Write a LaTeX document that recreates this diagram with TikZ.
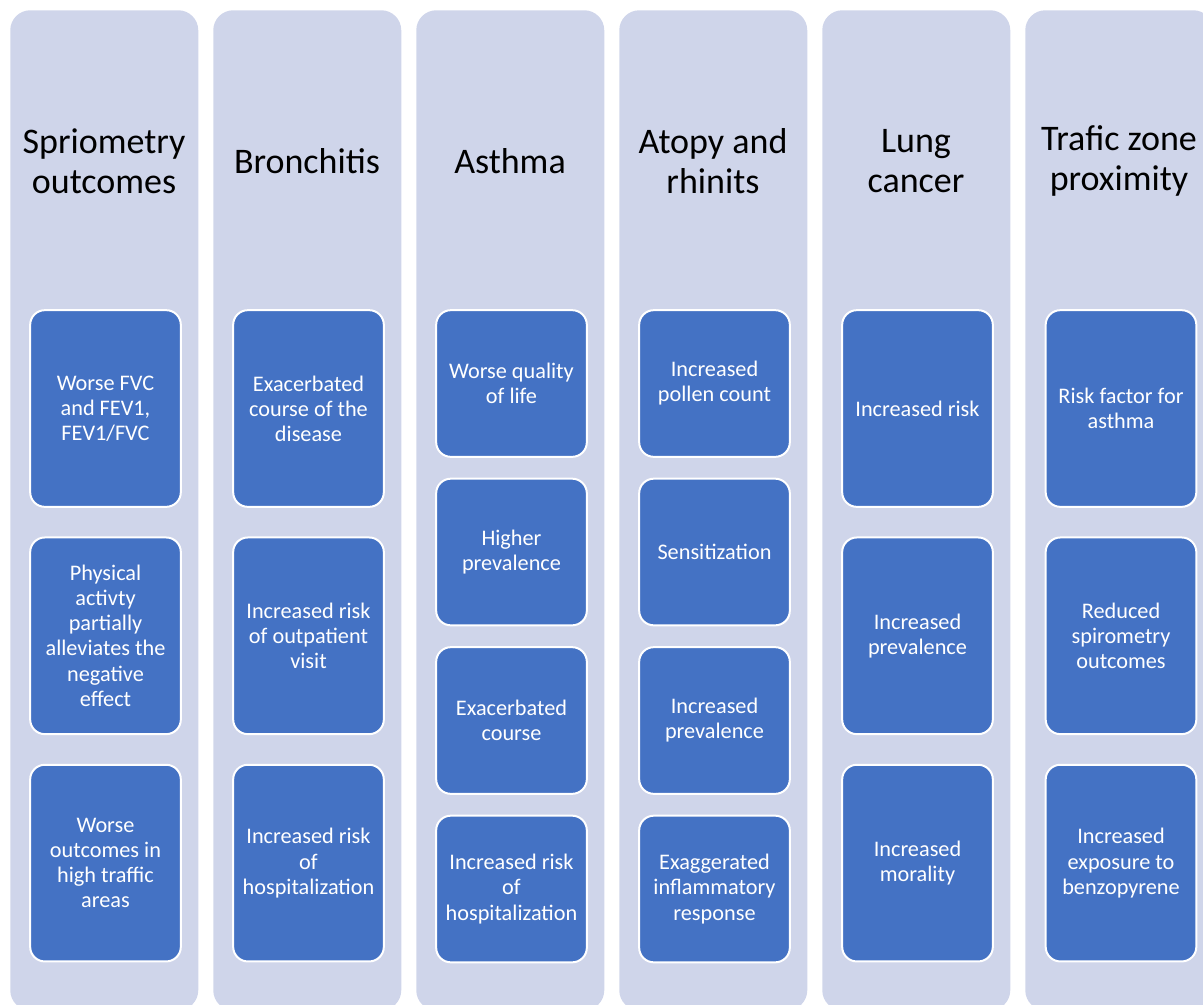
\documentclass[tikz,border=0pt]{standalone}
\usepackage{fontspec}
\setmainfont{Carlito}
\usepackage{tikz}

\definecolor{colbg}{HTML}{CFD5EA}
\definecolor{boxblue}{HTML}{4472C4}

\tikzset{
  column/.style={fill=colbg, rounded corners=15pt, anchor=north west, inner sep=0pt,
    minimum width=141pt, minimum height=750pt},
  head/.style={align=center, font=\fontsize{27}{30}\selectfont},
  item/.style={fill=boxblue, draw=white, line width=1.5pt, rounded corners=11pt,
    text=white, align=center, inner sep=0pt, minimum width=113pt,
    font=\fontsize{16.7}{18.8}\selectfont},
  tall/.style={minimum height=147.5pt},
  short/.style={minimum height=110pt}
}

\begin{document}
\begin{tikzpicture}[x=0.75pt,y=-0.75pt]
		\useasboundingbox (0,0) rectangle (1203,1004);
		\clip (0,0) rectangle (1203,1004);
		% columns with their headings
		\foreach \head[count=\i] in {Spriometry\\outcomes, Bronchitis, Asthma, Atopy and\\rhinits, Lung\\cancer, Trafic zone\\proximity}{
		\node[column] (col-\i) at ({10+203*(\i-1)},10) {};
		\node[head] (head-\i) at ({104+203*(\i-1)},161) {\head};
		}
		% three boxes per column
		\foreach \txt[count=\j] in {{Worse FVC\\and FEV1,\\FEV1/FVC}, {Physical\\activty\\partially\\alleviates the\\negative\\effect}, {Worse\\outcomes in\\high traffic\\areas}}{
		\node[item,tall] (spiro-\j) at (105.5,{408.5+227.3*(\j-1)}) {\txt};
		}
		\foreach \txt[count=\j] in {{Exacerbated\\course of the\\disease}, {Increased risk\\of outpatient\\visit}, {Increased risk\\of\\hospitalization}}{
		\node[item,tall] (bron-\j) at (308.5,{408.5+227.3*(\j-1)}) {\txt};
		}
		\foreach \txt[count=\j] in {{Increased risk}, {Increased\\prevalence}, {Increased\\morality}}{
		\node[item,tall] (lung-\j) at (917.5,{408.5+227.3*(\j-1)}) {\txt};
		}
		\foreach \txt[count=\j] in {{Risk factor for\\asthma}, {Reduced\\spirometry\\outcomes}, {Increased\\exposure to\\benzopyrene}}{
		\node[item,tall] (traf-\j) at (1121,{408.5+227.3*(\j-1)}) {\txt};
		}
		% four boxes per column
		\foreach \txt[count=\j] in {{Worse quality\\of life}, {Higher\\prevalence}, {Exacerbated\\course}, {Increased risk\\of\\hospitalization}}{
		\node[item,short] (asth-\j) at (511.5,{383.5+168.5*(\j-1)}) {\txt};
		}
		\foreach \txt[count=\j] in {{Increased\\pollen count}, Sensitization, {Increased\\prevalence}, {Exaggerated\\inflammatory\\response}}{
		\node[item,short] (atop-\j) at (714.5,{383.5+168.5*(\j-1)}) {\txt};
		}
\end{tikzpicture}
\end{document}
